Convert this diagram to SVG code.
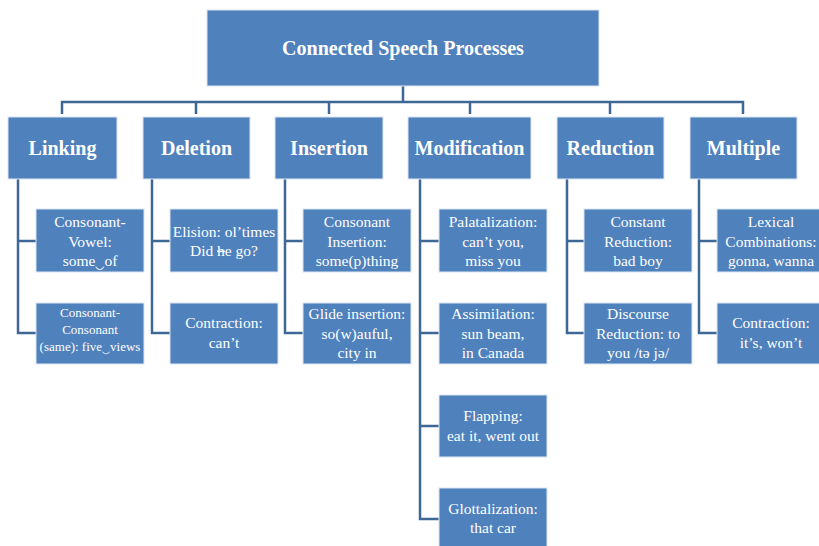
<svg xmlns="http://www.w3.org/2000/svg" width="819" height="546" viewBox="0 0 819 546">
<style>
.box{fill:#4F81BD;stroke:#DCE6F2;stroke-width:1}
.t{font-family:"Liberation Serif","DejaVu Serif",serif;fill:#FFFFFF;text-anchor:middle}
.h{font-size:20px;font-weight:bold}
.c{font-size:15.5px}
.s{font-size:13px}
.ln{fill:none;stroke:#3D6896;stroke-width:2.5}
</style>
<rect width="819" height="546" fill="#FFFFFF"/>
<g id="connectors">
<path class="ln" d="M403,86 V102 M62,114 V102 H743 V114 M196,102 V114 M329,102 V114 M470,102 V114 M610,102 V114"/>
<path class="ln" d="M18,179 V333 H36 M18,241 H36"/>
<path class="ln" d="M152,179 V333 H170 M152,241 H170"/>
<path class="ln" d="M285,179 V333 H303 M285,241 H303"/>
<path class="ln" d="M420,179 V519 H439 M420,241 H439 M420,333 H439 M420,426 H439"/>
<path class="ln" d="M567,179 V333 H584 M567,241 H584"/>
<path class="ln" d="M699,179 V333 H717 M699,241 H717"/>
</g>
<g id="root"><rect class="box" x="207" y="10" width="392" height="76"/><text class="t h" x="403" y="55">Connected Speech Processes</text></g>
<g id="linking"><rect class="box" x="8" y="117" width="109" height="62"/><text class="t h" x="62.5" y="155">Linking</text></g>
<g id="deletion"><rect class="box" x="143" y="117" width="107" height="62"/><text class="t h" x="196.5" y="155">Deletion</text></g>
<g id="insertion"><rect class="box" x="275" y="117" width="108" height="62"/><text class="t h" x="329" y="155">Insertion</text></g>
<g id="modification"><rect class="box" x="408" y="117" width="123" height="62"/><text class="t h" x="469.5" y="155">Modification</text></g>
<g id="reduction"><rect class="box" x="557" y="117" width="107" height="62"/><text class="t h" x="610.5" y="155">Reduction</text></g>
<g id="multiple"><rect class="box" x="690" y="117" width="107" height="62"/><text class="t h" x="743.5" y="155">Multiple</text></g>

<g id="consonant-vowel"><rect class="box" x="36" y="209" width="108" height="63"/><text class="t c" x="90" y="227">Consonant-</text><text class="t c" x="90" y="246.5">Vowel:</text><text class="t c" x="90" y="266">some‿of</text></g>
<g id="consonant-consonant"><rect class="box" x="36" y="303" width="108" height="61"/><text class="t s" x="90" y="317">Consonant-</text><text class="t s" x="90" y="334">Consonant</text><text class="t s" x="90" y="351">(same): five‿views</text></g>
<g id="elision"><rect class="box" x="170" y="209" width="108" height="63"/><text class="t c" x="224" y="237">Elision: ol’times</text><text class="t c" x="224" y="256">Did <tspan text-decoration="line-through">h</tspan>e go?</text></g>
<g id="contraction-del"><rect class="box" x="170" y="303" width="108" height="61"/><text class="t c" x="224" y="328">Contraction:</text><text class="t c" x="224" y="348">can’t</text></g>
<g id="consonant-insertion"><rect class="box" x="303" y="209" width="108" height="63"/><text class="t c" x="357" y="227">Consonant</text><text class="t c" x="357" y="246.5">Insertion:</text><text class="t c" x="357" y="266">some(p)thing</text></g>
<g id="glide-insertion"><rect class="box" x="303" y="303" width="108" height="61"/><text class="t c" x="357" y="319">Glide insertion:</text><text class="t c" x="357" y="338.5">so(w)auful,</text><text class="t c" x="357" y="358">city in</text></g>
<g id="palatalization"><rect class="box" x="439" y="209" width="108" height="63"/><text class="t c" x="493" y="227">Palatalization:</text><text class="t c" x="493" y="246.5">can’t you,</text><text class="t c" x="493" y="266">miss you</text></g>
<g id="assimilation"><rect class="box" x="439" y="303" width="108" height="61"/><text class="t c" x="493" y="319">Assimilation:</text><text class="t c" x="493" y="338.5">sun beam,</text><text class="t c" x="493" y="358">in Canada</text></g>
<g id="flapping"><rect class="box" x="439" y="395" width="108" height="62"/><text class="t c" x="493" y="421">Flapping:</text><text class="t c" x="493" y="440.5">eat it, went out</text></g>
<g id="glottalization"><rect class="box" x="439" y="488" width="108" height="62"/><text class="t c" x="493" y="514">Glottalization:</text><text class="t c" x="493" y="533">that car</text></g>
<g id="constant-reduction"><rect class="box" x="584" y="209" width="108" height="63"/><text class="t c" x="638" y="227">Constant</text><text class="t c" x="638" y="246.5">Reduction:</text><text class="t c" x="638" y="266">bad boy</text></g>
<g id="discourse-reduction"><rect class="box" x="584" y="303" width="108" height="61"/><text class="t c" x="638" y="319">Discourse</text><text class="t c" x="638" y="338.5">Reduction: to</text><text class="t c" x="638" y="358">you /tə jə/</text></g>
<g id="lexical-combinations"><rect class="box" x="717" y="209" width="108" height="63"/><text class="t c" x="771" y="227">Lexical</text><text class="t c" x="771" y="246.5">Combinations:</text><text class="t c" x="771" y="266">gonna, wanna</text></g>
<g id="contraction-mult"><rect class="box" x="717" y="303" width="108" height="61"/><text class="t c" x="771" y="328">Contraction:</text><text class="t c" x="771" y="348">it’s, won’t</text></g>
</svg>
